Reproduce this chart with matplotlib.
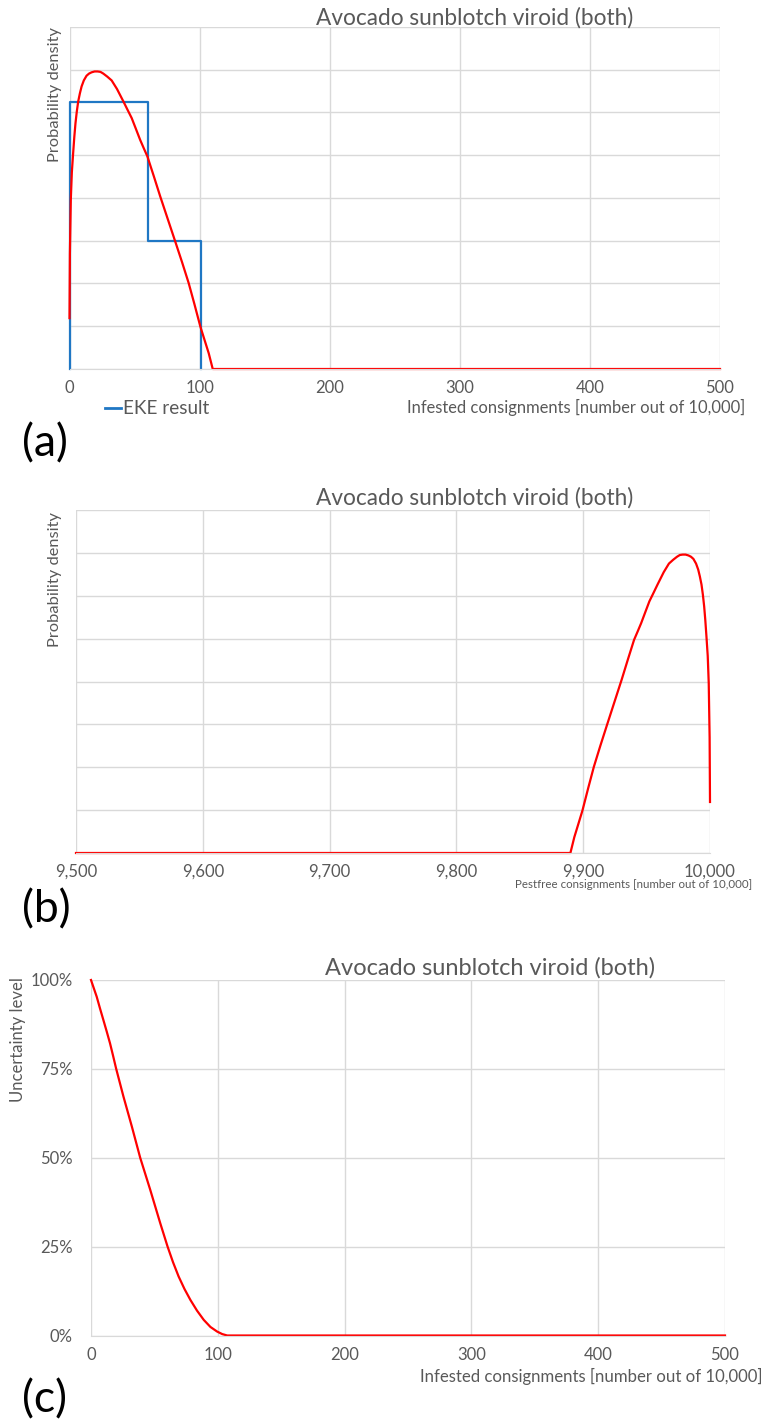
import matplotlib.pyplot as plt

W, H = 767, 1423

# fitted density of infested consignments (out of 10,000)
infested_x = [0, 0.3, 1.0, 1.8, 2.8, 3.7, 4.6, 5.6, 6.7, 8.0, 9.3, 11.0, 13.1, 15.0, 17.0,
              19.3, 21.6, 23.8, 26.0, 29.0, 32.4, 36.5, 41.4, 44.5, 47.8, 51.0, 54.3, 57.0,
              59.9, 64.8, 69.7, 75.5, 81.3, 86.5, 91.6, 96.0, 100.6, 104.0, 107.0, 110.1, 500]
density = [0.00238, 0.0054, 0.00792, 0.0092, 0.0101, 0.01086, 0.0115, 0.01204, 0.01252,
           0.0129, 0.01322, 0.0135, 0.01372, 0.01382, 0.01388, 0.01392, 0.01392, 0.0139,
           0.01382, 0.01368, 0.0135, 0.0131, 0.01252, 0.01214, 0.01174, 0.01124, 0.01072,
           0.01034, 0.00994, 0.00902, 0.00808, 0.00702, 0.00596, 0.005, 0.00402, 0.00304,
           0.00198, 0.00132, 0.00074, 0.0, 0.0]

# EKE result as a step histogram
eke_edges = [0, 60, 101]
eke_heights = [0.0125, 0.006]

# uncertainty level (share above the value)
unc_x = [0, 2.2, 4.5, 7.1, 9.8, 12.4, 15.0, 17.4, 19.8, 25.6, 32.2, 38.8, 46.7, 54.6,
         60.4, 64.7, 69.1, 73.7, 78.4, 83.6, 88.9, 94.2, 99.5, 103.5, 107.4, 500]
unc_level = [1.0, 0.977, 0.953, 0.92, 0.887, 0.855, 0.822, 0.787, 0.751, 0.672, 0.588,
             0.500, 0.410, 0.316, 0.250, 0.206, 0.166, 0.131, 0.100, 0.070, 0.044, 0.024,
             0.011, 0.004, 0.0, 0.0]

title = "Avocado sunblotch viroid (both)"
grey = "#595959"
grid_c = "#D9D9D9"
red = "#FF0000"
blue = "#1F77C4"

plt.rcParams['font.family'] = ['Lato', 'DejaVu Sans']

fig = plt.figure(figsize=(W / 100, H / 100), dpi=100)


def make_axes(left, top, right, bottom):
    ax = fig.add_axes([left / W, 1 - bottom / H, (right - left) / W, (bottom - top) / H])
    for s in ax.spines.values():
        s.set_visible(False)
    ax.spines['bottom'].set_visible(True)
    ax.spines['bottom'].set_color(grid_c)
    ax.grid(True, color=grid_c, linewidth=1.0)
    ax.set_axisbelow(True)
    ax.tick_params(length=0, labelsize=12, labelcolor=grey, pad=8)
    return ax


# (a) probability density of infested consignments
ax1 = make_axes(69.5, 27, 720, 369)
step_x = [eke_edges[0], eke_edges[0], eke_edges[1], eke_edges[1], eke_edges[2], eke_edges[2]]
step_y = [0, eke_heights[0], eke_heights[0], eke_heights[1], eke_heights[1], 0]
ax1.plot(step_x, step_y, color=blue, linewidth=1.6, clip_on=False)
ax1.plot(infested_x, density, color=red, linewidth=1.6, clip_on=False)
ax1.set_xlim(0, 500)
ax1.set_ylim(0, 0.016)
ax1.set_xticks(range(0, 501, 100))
ax1.set_yticks([i * 0.002 for i in range(9)])
ax1.set_yticklabels([])
fig.text(475 / W, 1 - 18 / H, title, ha='center', va='center', fontsize=16.3, color=grey)
fig.text(55 / W, 1 - 95 / H, "Probability density", rotation=90, ha='center', va='center',
         fontsize=11.8, color=grey)
fig.text(745 / W, 1 - 407 / H, "Infested consignments [number out of 10,000]", ha='right',
         va='center', fontsize=11.9, color=grey)
fig.lines.append(plt.Line2D([105 / W, 121 / W], [1 - 408 / H, 1 - 408 / H], color=blue,
                            linewidth=2, transform=fig.transFigure))
fig.text(123 / W, 1 - 408 / H, "EKE result", ha='left', va='center', fontsize=13.6, color=grey)
fig.text(22 / W, 1 - 444 / H, "(a)", ha='left', va='center', fontsize=32, color='black')

# (b) same density on the pest-free scale
ax2 = make_axes(76, 510, 710, 853)
pestfree_x = [10000 - v for v in infested_x]
ax2.plot(pestfree_x, density, color=red, linewidth=1.6, clip_on=False)
ax2.set_xlim(9500, 10000)
ax2.set_ylim(0, 0.016)
ax2.set_xticks(range(9500, 10001, 100))
ax2.set_xticklabels([f"{v:,}" for v in range(9500, 10001, 100)])
ax2.set_yticks([i * 0.002 for i in range(9)])
ax2.set_yticklabels([])
fig.text(475 / W, 1 - 498 / H, title, ha='center', va='center', fontsize=16.3, color=grey)
fig.text(55 / W, 1 - 580 / H, "Probability density", rotation=90, ha='center', va='center',
         fontsize=11.8, color=grey)
fig.text(752 / W, 1 - 884 / H, "Pestfree consignments [number out of 10,000]", ha='right',
         va='center', fontsize=8.3, color=grey)
fig.text(22 / W, 1 - 910 / H, "(b)", ha='left', va='center', fontsize=32, color='black')

# (c) uncertainty level
ax3 = make_axes(91, 980, 725, 1335.5)
ax3.plot(unc_x, unc_level, color=red, linewidth=1.6, clip_on=False)
ax3.set_xlim(0, 500)
ax3.set_ylim(0, 1)
ax3.set_xticks(range(0, 501, 100))
ax3.set_yticks([0, 0.25, 0.5, 0.75, 1.0])
ax3.set_yticklabels(["0%", "25%", "50%", "75%", "100%"])
ax3.tick_params(axis='y', pad=13)
fig.text(490 / W, 1 - 968 / H, title, ha='center', va='center', fontsize=17, color=grey)
fig.text(18 / W, 1 - 1040 / H, "Uncertainty level", rotation=90, ha='center', va='center',
         fontsize=12, color=grey)
fig.text(762 / W, 1 - 1376 / H, "Infested consignments [number out of 10,000]", ha='right',
         va='center', fontsize=12.1, color=grey)
fig.text(22 / W, 1 - 1400 / H, "(c)", ha='left', va='center', fontsize=32, color='black')

fig.savefig("out.png", dpi=100)
